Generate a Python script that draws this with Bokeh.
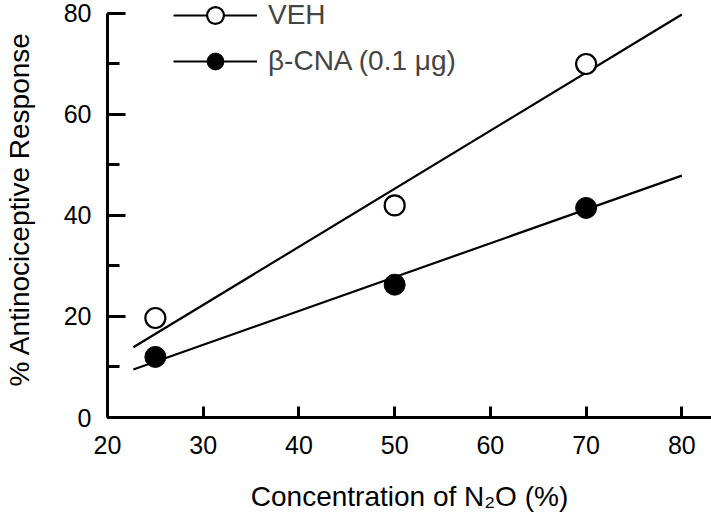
import numpy as np
from bokeh.plotting import figure
from bokeh.models import (ColumnDataSource, Range1d, SingleIntervalTicker, Legend, LegendItem)
from bokeh.embed import file_html
from bokeh.resources import INLINE

# ---- data ----
conc = [25, 50, 70]
veh = [19.7, 42.0, 70.0]
cna = [12.0, 26.3, 41.5]
# regression lines as drawn: slope, intercept, x-span
veh_fit = [1.15, -12.2]
cna_fit = [0.67, -5.7]
fit_span = [22.7, 80.0]

FONT = "Liberation Sans"

p = figure(width=711, height=514, output_backend="svg", toolbar_location=None,
           x_range=Range1d(20, 83.1), y_range=Range1d(0, 82.57),
           min_border_left=102, min_border_right=0, min_border_top=0, min_border_bottom=97)
p.outline_line_color = None
p.grid.visible = False
p.background_fill_color = "white"

fx = np.array(fit_span)
veh_line = p.line(fx, veh_fit[0] * fx + veh_fit[1], line_color="black", line_width=2.2)
cna_line = p.line(fx, cna_fit[0] * fx + cna_fit[1], line_color="black", line_width=2.2)

src = ColumnDataSource(dict(x=conc, veh=veh, cna=cna))
veh_pts = p.scatter("x", "veh", source=src, size=20, marker="circle",
                    fill_color="white", line_color="black", line_width=2.2)
cna_pts = p.scatter("x", "cna", source=src, size=21, marker="circle",
                    fill_color="black", line_color="black", line_width=1)

# axes
xa = p.xaxis[0]
xa.ticker = SingleIntervalTicker(interval=10, num_minor_ticks=0)
xa.bounds = (20, 83.1)
xa.axis_label = "Concentration of N\u2082O (%)"
ya = p.yaxis[0]
ya.ticker = SingleIntervalTicker(interval=20, num_minor_ticks=2)
ya.bounds = (0, 80)
ya.axis_label = "% Antinociceptive Response"

for ax in (xa, ya):
    ax.axis_line_width = 3
    ax.major_tick_line_width = 3
    ax.minor_tick_line_width = 3
    ax.major_tick_out = 0
    ax.minor_tick_out = 0
    ax.major_label_text_font = FONT
    ax.major_label_text_font_size = "25px"
    ax.major_label_text_color = "black"
    ax.axis_label_text_font = FONT
    ax.axis_label_text_font_size = "28px"
    ax.axis_label_text_font_style = "normal"
    ax.axis_label_text_color = "black"

xa.major_tick_in = 11
xa.major_label_standoff = 18
xa.axis_label_standoff = 24
ya.major_tick_in = 18
ya.minor_tick_in = 12
ya.major_label_standoff = 16
ya.axis_label_standoff = 26

legend = Legend(items=[LegendItem(label="VEH", renderers=[veh_line, veh_pts]),
                       LegendItem(label="\u03b2-CNA (0.1 \u03bcg)", renderers=[cna_line, cna_pts])],
                location=(66, 335), orientation="vertical",
                glyph_width=84, glyph_height=42, label_height=42, spacing=4,
                label_standoff=11, padding=0, margin=0,
                label_text_font=FONT, label_text_font_size="28px",
                border_line_alpha=0, background_fill_alpha=0)
p.add_layout(legend)

open("out.html", "w").write(file_html(p, INLINE))
